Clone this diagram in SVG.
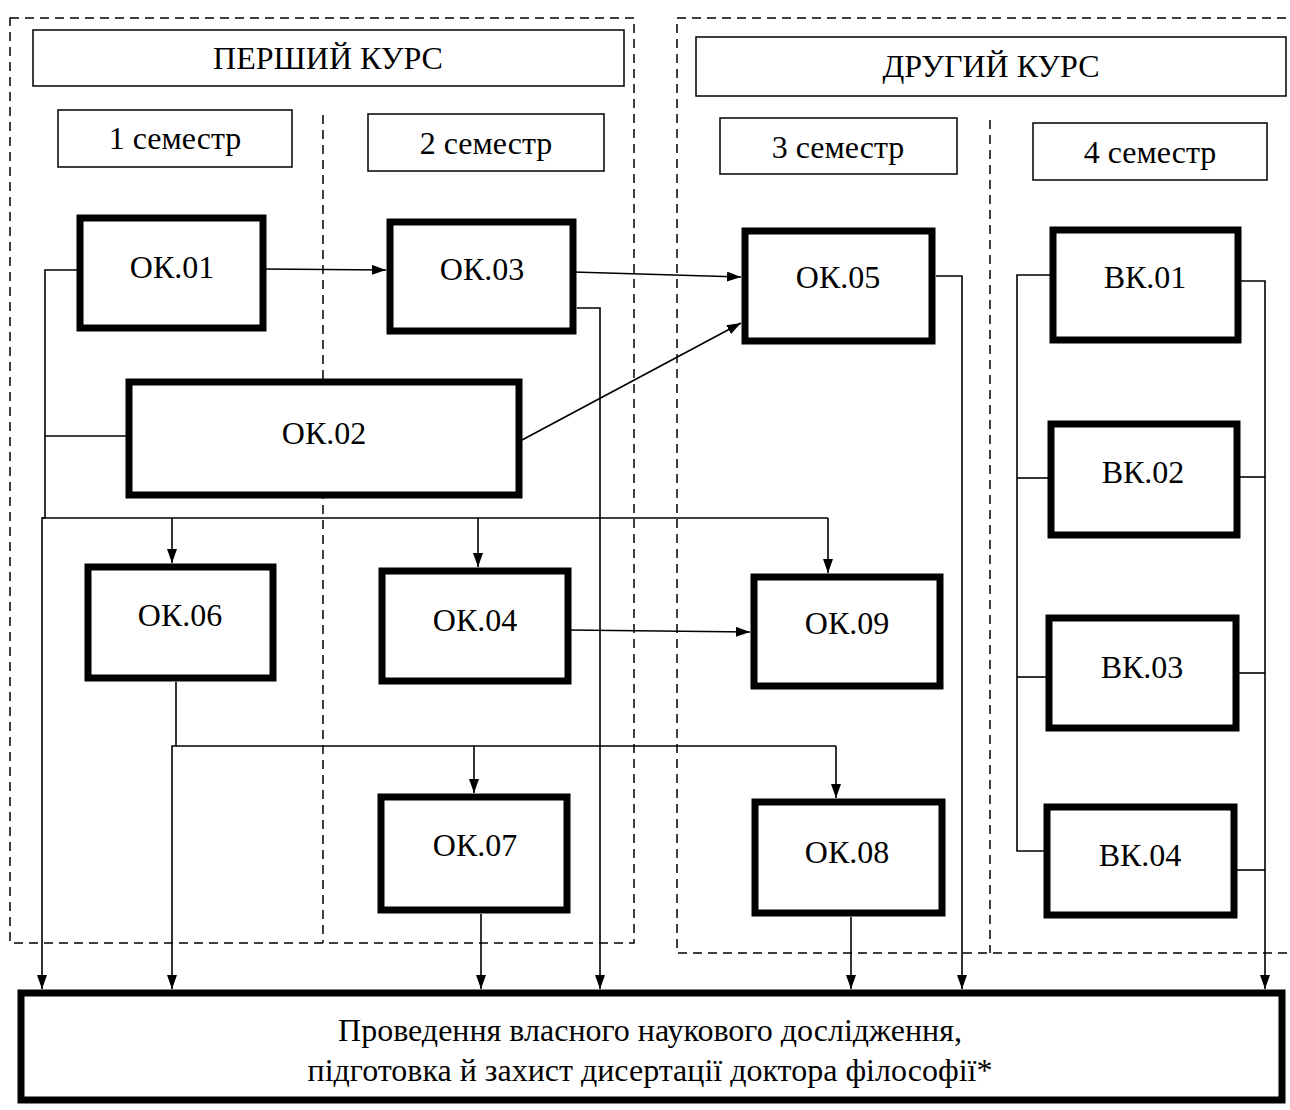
<svg xmlns="http://www.w3.org/2000/svg" width="1290" height="1110" viewBox="0 0 1290 1110">
<defs>
<marker id="ah" viewBox="0 0 14 10" refX="14" refY="5" markerWidth="14" markerHeight="10" markerUnits="userSpaceOnUse" orient="auto">
<path d="M0,0 L14,5 L0,10 Z" fill="#000"/>
</marker>
<style>
.dash{fill:none;stroke:#000;stroke-width:1.5;stroke-dasharray:9 6}
.hdr{fill:#fff;stroke:#000;stroke-width:1.5}
.node{fill:#fff;stroke:#000;stroke-width:7}
.t{font-family:"Liberation Serif","Times New Roman",serif;font-size:32px;fill:#000;text-anchor:middle}
.c{fill:none;stroke:#000;stroke-width:1.6}
.a{fill:none;stroke:#000;stroke-width:1.6;marker-end:url(#ah)}
</style>
</defs>
<rect width="1290" height="1110" fill="#fff"/>
<g id="regions">
<rect class="dash" x="10" y="18" width="624" height="925"/>
<line class="dash" x1="323" y1="115" x2="323" y2="943"/>
<rect class="dash" x="677" y="18" width="640" height="935"/>
<line class="dash" x1="990" y1="120" x2="990" y2="953"/>
</g>
<g id="headers">
<g id="h-course1"><rect class="hdr" x="33" y="30" width="591" height="56"/><text class="t" x="328" y="69">ПЕРШИЙ КУРС</text></g>
<g id="h-course2"><rect class="hdr" x="696" y="37" width="590" height="59"/><text class="t" x="991" y="77">ДРУГИЙ КУРС</text></g>
<g id="h-sem1"><rect class="hdr" x="58" y="110" width="234" height="57"/><text class="t" x="175" y="149">1 семестр</text></g>
<g id="h-sem2"><rect class="hdr" x="368" y="114" width="236" height="57"/><text class="t" x="486" y="154">2 семестр</text></g>
<g id="h-sem3"><rect class="hdr" x="720" y="118" width="237" height="56"/><text class="t" x="838" y="158">3 семестр</text></g>
<g id="h-sem4"><rect class="hdr" x="1033" y="123" width="234" height="57"/><text class="t" x="1150" y="163">4 семестр</text></g>
</g>
<g id="connectors">
<polyline class="a" points="80,270 45,270 45,518 42,518 42,989"/>
<line class="c" x1="129" y1="436" x2="45" y2="436"/>
<polyline class="c" points="42,518 828,518"/>
<line class="a" x1="172" y1="518" x2="172" y2="563"/>
<line class="a" x1="478" y1="518" x2="478" y2="567"/>
<line class="a" x1="828" y1="518" x2="828" y2="573"/>
<line class="a" x1="263" y1="269" x2="386" y2="270"/>
<line class="a" x1="573" y1="272" x2="741" y2="277"/>
<polyline class="a" points="577,308 600,308 600,989"/>
<line class="a" x1="522" y1="440" x2="741" y2="323"/>
<polyline class="a" points="936,276 962,276 962,989"/>
<line class="a" x1="568" y1="630" x2="750" y2="632"/>
<polyline class="a" points="176,682 176,746 172,746 172,989"/>
<polyline class="c" points="176,746 836,746"/>
<line class="a" x1="474" y1="746" x2="474" y2="793"/>
<line class="a" x1="836" y1="746" x2="836" y2="798"/>
<line class="a" x1="481" y1="914" x2="481" y2="989"/>
<line class="a" x1="851" y1="917" x2="851" y2="989"/>
<polyline class="c" points="1050,275 1017,275 1017,851 1044,851"/>
<line class="c" x1="1017" y1="478" x2="1048" y2="478"/>
<line class="c" x1="1017" y1="677" x2="1046" y2="677"/>
<polyline class="a" points="1241,281 1265,281 1265,989"/>
<line class="c" x1="1240" y1="477" x2="1265" y2="477"/>
<line class="c" x1="1239" y1="673" x2="1265" y2="673"/>
<line class="c" x1="1237" y1="870" x2="1265" y2="870"/>
</g>
<g id="OK01"><rect class="node" x="80" y="218" width="183" height="110"/><text class="t" x="172" y="278">ОК.01</text></g>
<g id="OK03"><rect class="node" x="390" y="222" width="183" height="109"/><text class="t" x="482" y="280">ОК.03</text></g>
<g id="OK05"><rect class="node" x="745" y="231" width="187" height="110"/><text class="t" x="838" y="288">ОК.05</text></g>
<g id="OK02"><rect class="node" x="129" y="382" width="390" height="113"/><text class="t" x="324" y="444">ОК.02</text></g>
<g id="OK06"><rect class="node" x="88" y="567" width="185" height="111"/><text class="t" x="180" y="626">ОК.06</text></g>
<g id="OK04"><rect class="node" x="382" y="571" width="186" height="110"/><text class="t" x="475" y="631">ОК.04</text></g>
<g id="OK09"><rect class="node" x="754" y="577" width="186" height="109"/><text class="t" x="847" y="634">ОК.09</text></g>
<g id="OK07"><rect class="node" x="381" y="797" width="186" height="113"/><text class="t" x="475" y="856">ОК.07</text></g>
<g id="OK08"><rect class="node" x="755" y="802" width="187" height="111"/><text class="t" x="847" y="863">ОК.08</text></g>
<g id="BK01"><rect class="node" x="1053" y="230" width="185" height="110"/><text class="t" x="1145" y="288">ВК.01</text></g>
<g id="BK02"><rect class="node" x="1051" y="424" width="186" height="111"/><text class="t" x="1143" y="483">ВК.02</text></g>
<g id="BK03"><rect class="node" x="1049" y="618" width="187" height="110"/><text class="t" x="1142" y="678">ВК.03</text></g>
<g id="BK04"><rect class="node" x="1047" y="807" width="187" height="108"/><text class="t" x="1140" y="866">ВК.04</text></g>
<g id="final"><rect class="node" x="21" y="993" width="1261" height="107"/>
<text class="t" x="650" y="1041">Проведення власного наукового дослідження,</text>
<text class="t" x="650" y="1081">підготовка й захист дисертації доктора філософії*</text></g>
</svg>
